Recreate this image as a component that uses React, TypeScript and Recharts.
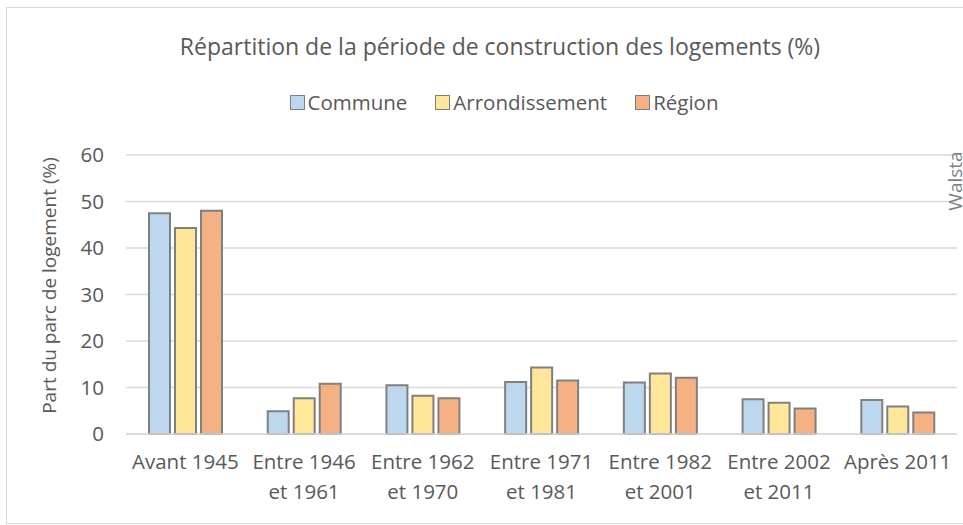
import { Bar, BarChart, CartesianGrid, XAxis, YAxis } from "recharts"

const periods = [
  "Avant 1945",
  "Entre 1946|et 1961",
  "Entre 1962|et 1970",
  "Entre 1971|et 1981",
  "Entre 1982|et 2001",
  "Entre 2002|et 2011",
  "Après 2011",
]
const commune = [47.5, 4.9, 10.5, 11.2, 11.1, 7.5, 7.3]
const arrondissement = [44.3, 7.7, 8.2, 14.3, 13.0, 6.7, 5.9]
const region = [48.0, 10.8, 7.7, 11.5, 12.1, 5.5, 4.6]
const yTicks = [0, 10, 20, 30, 40, 50, 60]

const series = [
  { key: "commune", name: "Commune", color: "#BDD7EE" },
  { key: "arrondissement", name: "Arrondissement", color: "#FFE699" },
  { key: "region", name: "Région", color: "#F4B183" },
]

const data = periods.map((p, i) => ({
  period: p,
  commune: commune[i],
  arrondissement: arrondissement[i],
  region: region[i],
}))

const FONT = "'Open Sans', Lato, sans-serif"
const TEXT = "#595959"

const PeriodTick = ({ x, y, payload }: any) => {
  const lines = String(payload.value).split("|")
  return (
    <text x={x} y={y} textAnchor="middle" fill={TEXT} fontSize={20.5} fontFamily={FONT}>
      {lines.map((l, i) => (
        <tspan key={i} x={x} dy={i === 0 ? 27 : 30}>
          {l}
        </tspan>
      ))}
    </text>
  )
}

export default function App() {
  return (
    <div style={{ position: "absolute", left: 0, top: 0, width: 963, height: 525, background: "#fff", overflow: "hidden" }}>
      <div
        style={{
          position: "absolute",
          left: 6,
          top: 7,
          width: 970,
          height: 515,
          border: "1.5px solid #d9d9d9",
        }}
      />
      <div
        style={{
          position: "absolute",
          left: 0,
          top: 30,
          width: 1000,
          textAlign: "center",
          fontFamily: FONT,
          fontSize: 23,
          color: TEXT,
        }}
      >
        Répartition de la période de construction des logements (%)
      </div>
      <div
        style={{
          position: "absolute",
          left: 0,
          top: 88,
          width: 1008,
          display: "flex",
          justifyContent: "center",
          gap: 28,
          fontFamily: FONT,
          fontSize: 20.5,
          color: TEXT,
        }}
      >
        {series.map((s) => (
          <div key={s.key} style={{ display: "flex", alignItems: "center" }}>
            <span
              style={{
                display: "inline-block",
                width: 13,
                height: 13,
                background: s.color,
                border: "1.5px solid #7f7f7f",
                marginRight: 3,
              }}
            />
            {s.name}
          </div>
        ))}
      </div>
      <div style={{ position: "absolute", left: 0, top: 0 }}>
        <BarChart
          width={963}
          height={525}
          data={data}
          margin={{ top: 155, right: 6, bottom: 61, left: 56 }}
          barSize={21}
          barGap={5}
        >
          <CartesianGrid vertical={false} stroke="#d9d9d9" strokeWidth={1.5} />
          <XAxis
            dataKey="period"
            tick={<PeriodTick />}
            tickLine={false}
            axisLine={{ stroke: "#d9d9d9", strokeWidth: 1.5 }}
            interval={0}
          />
          <YAxis
            domain={[0, 60]}
            ticks={yTicks}
            width={70}
            tick={{ fill: TEXT, fontSize: 20.5, fontFamily: FONT }}
            tickLine={false}
            axisLine={false}
            tickMargin={16}
            label={{
              value: "Part du parc de logement (%)",
              angle: -90,
              position: "insideLeft",
              offset: 0,
              dx: -7,
              dy: -9,
              style: { textAnchor: "middle", fill: TEXT, fontSize: 19, fontFamily: FONT },
            }}
          />
          {series.map((s) => (
            <Bar
              key={s.key}
              dataKey={s.key}
              name={s.name}
              fill={s.color}
              stroke="#808080"
              strokeWidth={2}
              isAnimationActive={false}
            />
          ))}
        </BarChart>
      </div>
      <svg style={{ position: "absolute", left: 0, top: 0 }} width={963} height={525}>
        <text
          x={962}
          y={181}
          transform="rotate(-90 962 181)"
          textAnchor="middle"
          fill="#7f7f7f"
          fontSize={19}
          fontFamily={FONT}
        >
          Walsta
        </text>
      </svg>
    </div>
  )
}
